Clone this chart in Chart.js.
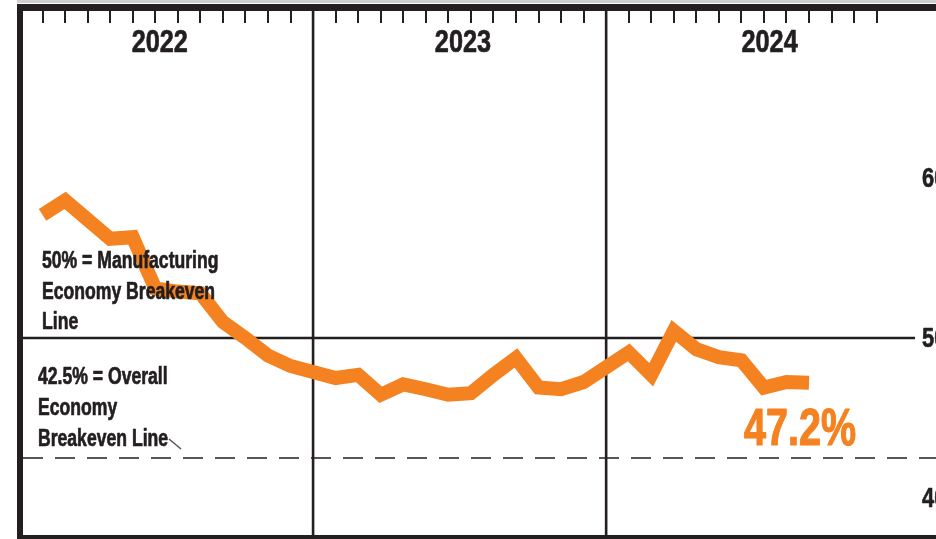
<!DOCTYPE html>
<html>
<head>
<meta charset="utf-8">
<title>ISM Manufacturing PMI 2022–2024</title>
<script src="https://cdn.jsdelivr.net/npm/chart.js@4/dist/chart.umd.min.js"></script>
<style>
  html, body { margin: 0; padding: 0; background: #fff; width: 936px; height: 539px; overflow: hidden; }
  #wrap { position: relative; width: 960px; height: 539px; }
</style>
</head>
<body>
<div id="wrap"><canvas id="pmi" width="960" height="539"></canvas></div>
<script>
// ---- data ----
const years = ['2022', '2023', '2024'];
const monthsPerYear = 12;
const pmi2022 = [57.7, 58.6, 57.4, 56.2, 56.3, 53.1, 52.9, 52.8, 51.0, 50.0, 48.9, 48.25];
const pmi2023 = [47.5, 47.7, 46.45, 47.1, 46.8, 46.45, 46.55, 47.7, 48.75, 46.9, 46.8, 47.25];
const pmi2024 = [49.1, 47.7, 50.45, 49.3, 48.8, 48.6, 46.9, 47.25, 47.2];
const yTickValues = [40, 50, 60];
const manufacturingBreakeven = 50;
const overallBreakeven = 42.5;
const latestLabel = '47.2%';
const noteManufacturing = ['50% = Manufacturing', 'Economy Breakeven', 'Line'];
const noteOverall = ['42.5% = Overall', 'Economy', 'Breakeven Line'];

// ---- styling ----
const ORANGE = '#F58220';
const INK = '#231F20';
const FAMILY = "'Liberation Sans', Arial, sans-serif";
// each year occupies 12 month slots plus one slot at the divider
const SLOT = monthsPerYear + 1;

const points = [];
[pmi2022, pmi2023, pmi2024].forEach((vals, yi) => {
  vals.forEach((v, mi) => points.push({ x: yi * SLOT + mi + 1, y: v }));
});

// heavy bold text squeezed horizontally to get a condensed face
function drawText(ctx, s, x, y, size, color, sx, align, baseline) {
  ctx.save();
  ctx.font = 'bold ' + size + 'px ' + FAMILY;
  ctx.fillStyle = color;
  ctx.strokeStyle = color;
  ctx.lineWidth = size > 40 ? 1.2 : 0.7;
  ctx.lineJoin = 'round';
  ctx.textBaseline = baseline || 'alphabetic';
  ctx.translate(x, y);
  ctx.scale(sx, 1);
  const w = ctx.measureText(s).width;
  const dx = align === 'center' ? -w / 2 : 0;
  ctx.fillText(s, dx, 0);
  ctx.strokeText(s, dx, 0);
  ctx.restore();
}

function seg(ctx, x1, y1, x2, y2) {
  ctx.beginPath();
  ctx.moveTo(x1, y1);
  ctx.lineTo(x2, y2);
  ctx.stroke();
}

const framePlugin = {
  id: 'frame',
  beforeDatasetsDraw(chart, args, opts) {
    const { ctx, chartArea: a, scales: { x, y } } = chart;
    const W = chart.width;
    ctx.save();
    ctx.lineCap = 'butt';

    // faint rule above the frame
    ctx.fillStyle = '#cfcfcf';
    ctx.fillRect(17, 0, W, 3);

    // 50 % line (solid) and 42.5 % line (dashed)
    ctx.strokeStyle = INK;
    ctx.lineWidth = 2.5;
    const y50 = y.getPixelForValue(manufacturingBreakeven);
    seg(ctx, 20, y50, a.right, y50);
    ctx.lineWidth = 1.6;
    ctx.setLineDash([20, 12]);
    const y42 = y.getPixelForValue(overallBreakeven);
    seg(ctx, 23, y42, W, y42);
    ctx.setLineDash([]);

    // year dividers
    ctx.lineWidth = 2.6;
    for (let yi = 1; yi < years.length; yi++) {
      const xp = x.getPixelForValue(yi * SLOT);
      seg(ctx, xp, 4, xp, 539);
    }

    // month ticks hanging from the top border
    ctx.lineWidth = 2;
    for (let yi = 0; yi < years.length; yi++) {
      for (let m = 1; m <= monthsPerYear; m++) {
        const xp = Math.round(x.getPixelForValue(yi * SLOT + m));
        seg(ctx, xp, 10, xp, 23);
      }
    }

    // outer frame
    ctx.fillStyle = INK;
    ctx.fillRect(17, 4, W, 7);
    ctx.fillRect(17, 4, 6, 535);
    ctx.fillRect(17, 535, W, 4);

    // value labels of the right-hand axis
    y.ticks.forEach(t => {
      drawText(ctx, String(t.value), a.right + 7, y.getPixelForValue(t.value) + 1, 28, INK, 0.78, 'left', 'middle');
    });
    ctx.restore();
  },
  afterDatasetsDraw(chart, args, opts) {
    const { ctx, scales: { x } } = chart;
    // year headings
    years.forEach((yr, i) => {
      drawText(ctx, yr, x.getPixelForValue(opts.yearLabelX[i]), 52, 32, INK, 0.79, 'center');
    });
    // breakeven notes
    noteManufacturing.forEach((s, i) => drawText(ctx, s, 42, 268 + i * 30.5, 23, INK, 0.765, 'left'));
    noteOverall.forEach((s, i) => drawText(ctx, s, 38, 384 + i * 31, 23, INK, 0.765, 'left'));
    // small pointer after "Breakeven Line"
    ctx.save();
    ctx.strokeStyle = '#555';
    ctx.lineWidth = 1.5;
    seg(ctx, 169, 439, 181, 449);
    ctx.restore();
    // latest reading
    const last = points[points.length - 1];
    drawText(ctx, latestLabel, x.getPixelForValue(last.x) - 65, 445, 52, ORANGE, 0.76, 'left');
  }
};

new Chart(document.getElementById('pmi'), {
  type: 'line',
  data: {
    datasets: [{
      data: points,
      borderColor: ORANGE,
      borderWidth: 14,
      borderJoinStyle: 'miter',
      borderCapStyle: 'butt',
      pointRadius: 0,
      tension: 0,
      fill: false
    }]
  },
  options: {
    responsive: false,
    devicePixelRatio: 1,
    animation: false,
    events: [],
    layout: { padding: { left: 20, top: 8, bottom: 3, right: 0 } },
    plugins: {
      legend: { display: false },
      tooltip: { enabled: false },
      frame: { yearLabelX: [6.2, 19.65, 33.25] }
    },
    scales: {
      x: { type: 'linear', min: 0, max: 39.7, display: false },
      y: {
        position: 'right',
        min: 37.625,
        max: 70.625,
        grid: { display: false, drawTicks: false },
        border: { display: false },
        afterBuildTicks: s => { s.ticks = yTickValues.map(v => ({ value: v })); },
        afterFit: s => { s.width = 45; s.paddingTop = 0; s.paddingBottom = 0; },
        ticks: { display: false }
      }
    }
  },
  plugins: [framePlugin]
});
</script>
</body>
</html>
